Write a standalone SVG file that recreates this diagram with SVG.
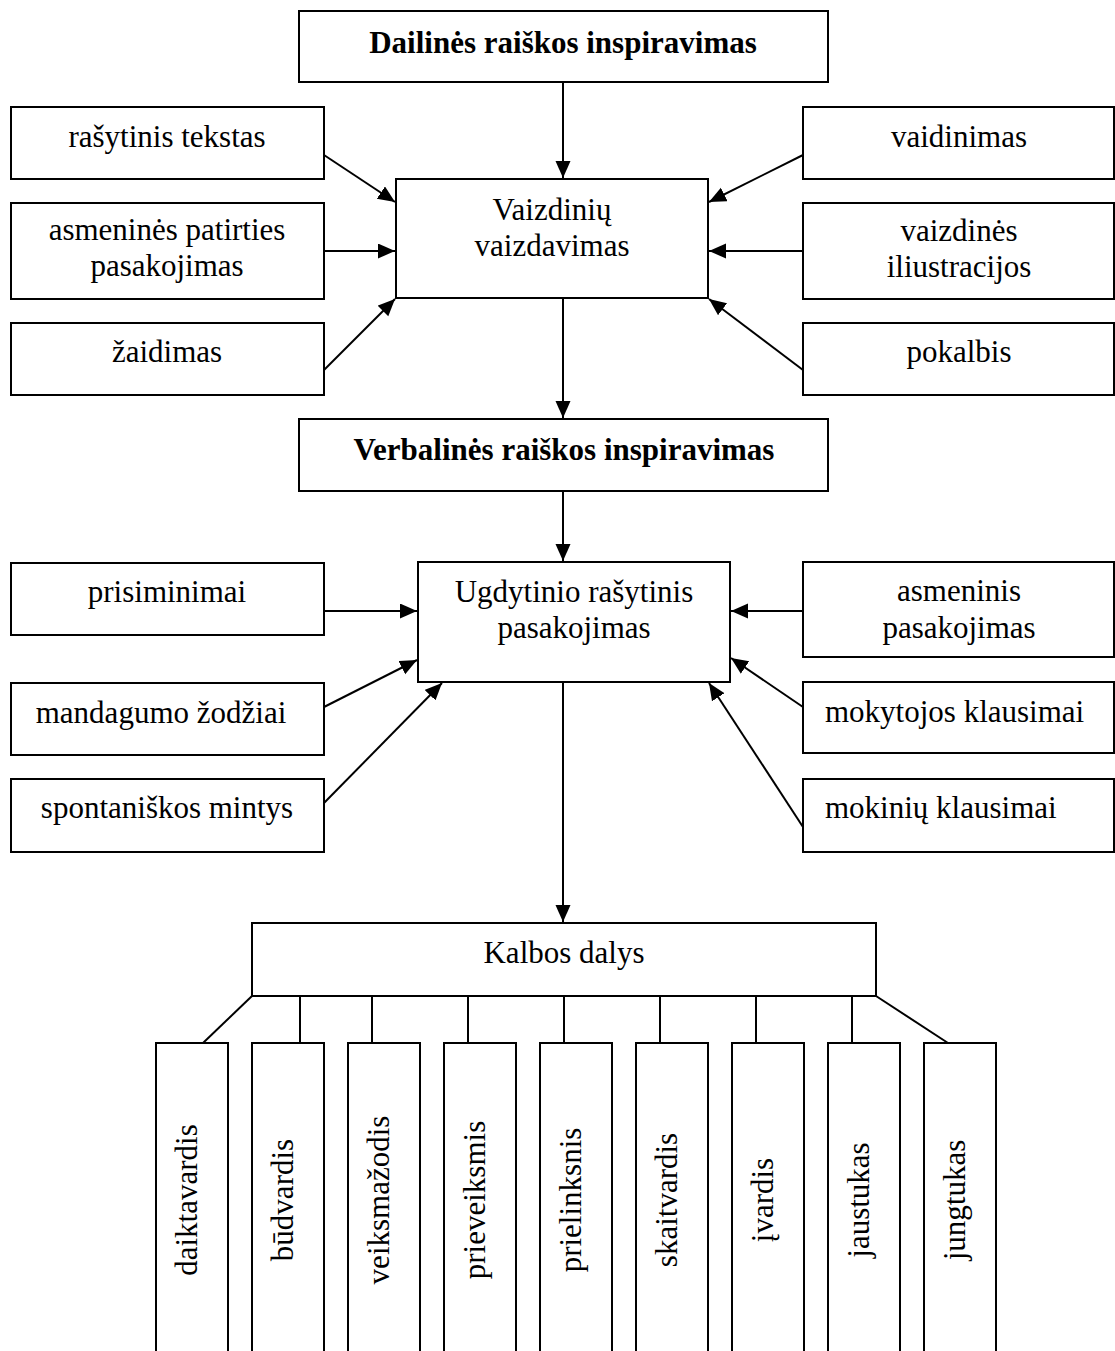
<svg xmlns="http://www.w3.org/2000/svg" width="1115" height="1351" viewBox="0 0 1115 1351">
<style>
  rect.box { fill: #ffffff; stroke: #000000; stroke-width: 2; }
  text { font-family: "Liberation Serif", "Times New Roman", serif; font-size: 31px; fill: #000000; }
  text.c { text-anchor: middle; }
  text.b { font-weight: bold; }
  .conn line { stroke: #000000; stroke-width: 2; }
  .conn line.arr { marker-end: url(#ah); }
</style>
<defs>
  <marker id="ah" markerUnits="userSpaceOnUse" markerWidth="18" markerHeight="16" refX="17" refY="7.5" orient="auto">
    <path d="M0,0 L17,7.5 L0,15 z" fill="#000000"/>
  </marker>
</defs>
<rect x="0" y="0" width="1115" height="1351" fill="#ffffff"/>

<g id="connectors" class="conn">
  <line class="arr" x1="563" y1="82" x2="563" y2="178"/>
  <line class="arr" x1="324" y1="155" x2="395" y2="202"/>
  <line class="arr" x1="324" y1="251" x2="395" y2="251"/>
  <line class="arr" x1="324" y1="370" x2="395" y2="299"/>
  <line class="arr" x1="803" y1="155" x2="709" y2="202"/>
  <line class="arr" x1="803" y1="251" x2="709" y2="251"/>
  <line class="arr" x1="803" y1="370" x2="709" y2="299"/>
  <line class="arr" x1="563" y1="298" x2="563" y2="418"/>
  <line class="arr" x1="563" y1="491" x2="563" y2="561"/>
  <line class="arr" x1="324" y1="611" x2="417" y2="611"/>
  <line class="arr" x1="324" y1="707" x2="417" y2="660"/>
  <line class="arr" x1="324" y1="803" x2="442" y2="683"/>
  <line class="arr" x1="803" y1="611" x2="731" y2="611"/>
  <line class="arr" x1="803" y1="707" x2="731" y2="658"/>
  <line class="arr" x1="803" y1="827" x2="709" y2="683"/>
  <line class="arr" x1="563" y1="682" x2="563" y2="922"/>
  <line x1="252" y1="996" x2="203" y2="1043"/>
  <line x1="300" y1="996" x2="300" y2="1043"/>
  <line x1="372" y1="996" x2="372" y2="1043"/>
  <line x1="468" y1="996" x2="468" y2="1043"/>
  <line x1="564" y1="996" x2="564" y2="1043"/>
  <line x1="660" y1="996" x2="660" y2="1043"/>
  <line x1="756" y1="996" x2="756" y2="1043"/>
  <line x1="852" y1="996" x2="852" y2="1043"/>
  <line x1="876" y1="996" x2="948" y2="1043"/>
</g>

<g id="dailines">
  <rect class="box" x="299" y="11" width="529" height="71"/>
  <text class="c b" x="563" y="53">Dailinės raiškos inspiravimas</text>
</g>
<g id="rasytinis-tekstas">
  <rect class="box" x="11" y="107" width="313" height="72"/>
  <text class="c" x="167" y="147">rašytinis tekstas</text>
</g>
<g id="asmenines-patirties">
  <rect class="box" x="11" y="203" width="313" height="96"/>
  <text class="c" x="167" y="240">asmeninės patirties</text>
  <text class="c" x="167" y="276">pasakojimas</text>
</g>
<g id="zaidimas">
  <rect class="box" x="11" y="323" width="313" height="72"/>
  <text class="c" x="167" y="362">žaidimas</text>
</g>
<g id="vaizdiniu">
  <rect class="box" x="396" y="179" width="312" height="119"/>
  <text class="c" x="552" y="220">Vaizdinių</text>
  <text class="c" x="552" y="256">vaizdavimas</text>
</g>
<g id="vaidinimas">
  <rect class="box" x="803" y="107" width="311" height="72"/>
  <text class="c" x="959" y="147">vaidinimas</text>
</g>
<g id="vaizdines-iliustracijos">
  <rect class="box" x="803" y="203" width="311" height="96"/>
  <text class="c" x="959" y="241">vaizdinės</text>
  <text class="c" x="959" y="277">iliustracijos</text>
</g>
<g id="pokalbis">
  <rect class="box" x="803" y="323" width="311" height="72"/>
  <text class="c" x="959" y="362">pokalbis</text>
</g>

<g id="verbalines">
  <rect class="box" x="299" y="419" width="529" height="72"/>
  <text class="c b" x="564" y="460">Verbalinės raiškos inspiravimas</text>
</g>
<g id="prisiminimai">
  <rect class="box" x="11" y="563" width="313" height="72"/>
  <text class="c" x="167" y="602">prisiminimai</text>
</g>
<g id="mandagumo">
  <rect class="box" x="11" y="683" width="313" height="72"/>
  <text class="c" x="161" y="723">mandagumo žodžiai</text>
</g>
<g id="spontaniskos">
  <rect class="box" x="11" y="779" width="313" height="73"/>
  <text class="c" x="167" y="818">spontaniškos mintys</text>
</g>
<g id="ugdytinio">
  <rect class="box" x="418" y="562" width="312" height="120"/>
  <text class="c" x="574" y="602">Ugdytinio rašytinis</text>
  <text class="c" x="574" y="638">pasakojimas</text>
</g>
<g id="asmeninis">
  <rect class="box" x="803" y="562" width="311" height="95"/>
  <text class="c" x="959" y="601">asmeninis</text>
  <text class="c" x="959" y="638">pasakojimas</text>
</g>
<g id="mokytojos">
  <rect class="box" x="803" y="682" width="311" height="71"/>
  <text x="825" y="722">mokytojos klausimai</text>
</g>
<g id="mokiniu">
  <rect class="box" x="803" y="779" width="311" height="73"/>
  <text x="825" y="818">mokinių klausimai</text>
</g>

<g id="kalbos-dalys">
  <rect class="box" x="252" y="923" width="624" height="73"/>
  <text class="c" x="564" y="963">Kalbos dalys</text>
</g>
<g id="daiktavardis">
  <rect class="box" x="156" y="1043" width="72" height="360"/>
  <text class="c" transform="translate(197,1200) rotate(-90)">daiktavardis</text>
</g>
<g id="budvardis">
  <rect class="box" x="252" y="1043" width="72" height="360"/>
  <text class="c" transform="translate(293,1200) rotate(-90)">būdvardis</text>
</g>
<g id="veiksmazodis">
  <rect class="box" x="348" y="1043" width="72" height="360"/>
  <text class="c" transform="translate(389,1200) rotate(-90)">veiksmažodis</text>
</g>
<g id="prieveiksmis">
  <rect class="box" x="444" y="1043" width="72" height="360"/>
  <text class="c" transform="translate(485,1200) rotate(-90)">prieveiksmis</text>
</g>
<g id="prielinksnis">
  <rect class="box" x="540" y="1043" width="72" height="360"/>
  <text class="c" transform="translate(581,1200) rotate(-90)">prielinksnis</text>
</g>
<g id="skaitvardis">
  <rect class="box" x="636" y="1043" width="72" height="360"/>
  <text class="c" transform="translate(677,1200) rotate(-90)">skaitvardis</text>
</g>
<g id="ivardis">
  <rect class="box" x="732" y="1043" width="72" height="360"/>
  <text class="c" transform="translate(773,1200) rotate(-90)">įvardis</text>
</g>
<g id="jaustukas">
  <rect class="box" x="828" y="1043" width="72" height="360"/>
  <text class="c" transform="translate(869,1200) rotate(-90)">jaustukas</text>
</g>
<g id="jungtukas">
  <rect class="box" x="924" y="1043" width="72" height="360"/>
  <text class="c" transform="translate(965,1200) rotate(-90)">jungtukas</text>
</g>
</svg>
